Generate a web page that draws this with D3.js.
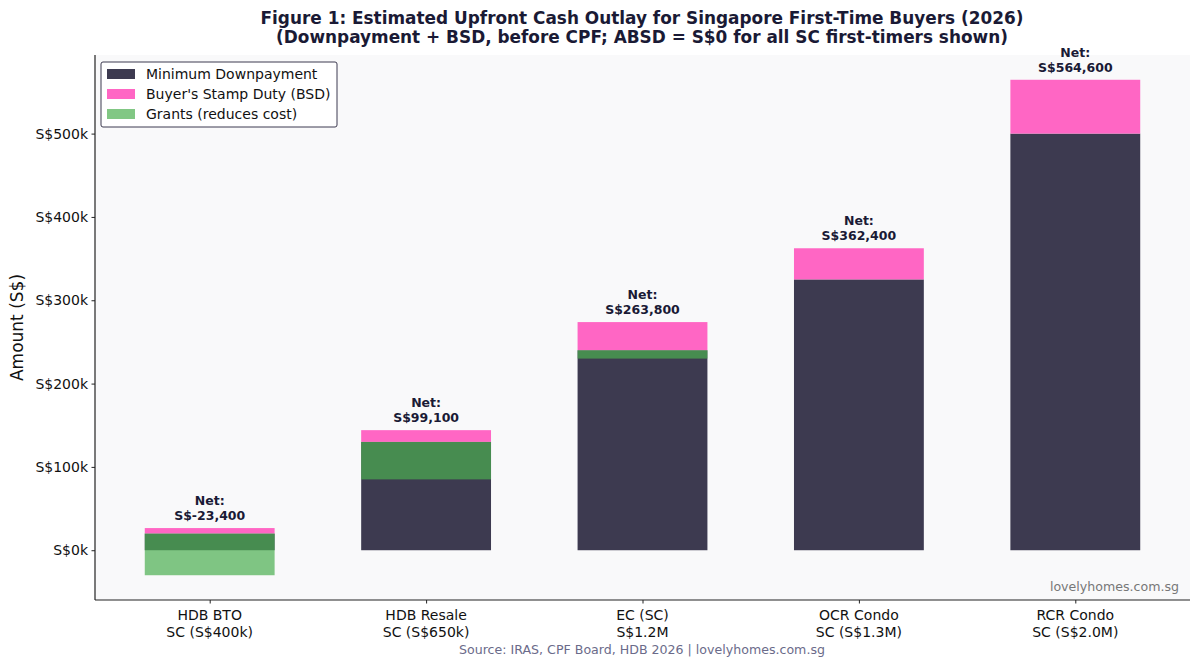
<!DOCTYPE html>
<html><head><meta charset="utf-8">
<script src="https://cdn.jsdelivr.net/npm/d3@7"></script>
<style>body{margin:0;background:#fff;} svg{display:block;font-family:"DejaVu Sans",sans-serif;}</style>
</head><body>
<svg id="chart" width="1200" height="667"></svg>
<script>
const categories = ["HDB BTO\nSC (S$400k)", "HDB Resale\nSC (S$650k)", "EC (SC)\nS$1.2M", "OCR Condo\nSC (S$1.3M)", "RCR Condo\nSC (S$2.0M)"];
const downpayment = [20000, 130000, 240000, 325000, 500000];
const bsd = [6600, 14100, 33800, 37400, 64600];
const grants = [50000, 45000, 10000, 0, 0];
const yTicks = [0, 100000, 200000, 300000, 400000, 500000];
const seriesNames = ["Minimum Downpayment", "Buyer's Stamp Duty (BSD)", "Grants (reduces cost)"];

const C_DP = "#3d3a50", C_BSD = "#ff66c4", C_GR = "#4caf50", INK = "#1a1a35";
const svg = d3.select("#chart");
const m = {left: 95, right: 1190, top: 55, bottom: 600};

const idx = d3.range(categories.length);
const x = d3.scaleLinear().domain([-0.53, categories.length - 1 + 0.53]).range([m.left, m.right]);
const barW = x(0.6) - x(0);
const tops = idx.map(i => downpayment[i] + bsd[i]);
const mins = idx.map(i => Math.min(0, downpayment[i] - grants[i]));
const ymin = d3.min(mins), ymax = d3.max(tops);
const pad = (ymax - ymin) * 0.05;
const y = d3.scaleLinear().domain([ymin - pad, ymax + pad]).range([m.bottom, m.top]);

// plot background
svg.append("rect").attr("x", m.left).attr("y", m.top).attr("width", m.right - m.left).attr("height", m.bottom - m.top).attr("fill", "#f9f9fa");

const g = svg.append("g");
g.selectAll("rect.dp").data(idx).join("rect")
  .attr("x", i => x(i) - barW / 2).attr("width", barW)
  .attr("y", i => y(downpayment[i])).attr("height", i => y(0) - y(downpayment[i]))
  .attr("fill", C_DP);
g.selectAll("rect.bsd").data(idx).join("rect")
  .attr("x", i => x(i) - barW / 2).attr("width", barW)
  .attr("y", i => y(downpayment[i] + bsd[i])).attr("height", i => y(downpayment[i]) - y(downpayment[i] + bsd[i]))
  .attr("fill", C_BSD);
g.selectAll("rect.gr").data(idx.filter(i => grants[i] > 0)).join("rect")
  .attr("x", i => x(i) - barW / 2).attr("width", barW)
  .attr("y", i => y(downpayment[i])).attr("height", i => y(downpayment[i] - grants[i]) - y(downpayment[i]))
  .attr("fill", C_GR).attr("fill-opacity", 0.7);

// net labels
idx.forEach(i => {
  const net = downpayment[i] + bsd[i] - grants[i];
  const ty = y(tops[i]);
  const s = net < 0 ? "S$-" + d3.format(",")(-net) : "S$" + d3.format(",")(net);
  const t = svg.append("text").attr("x", x(i)).attr("text-anchor", "middle")
    .attr("font-size", 12.5).attr("font-weight", "bold").attr("fill", INK);
  t.append("tspan").attr("x", x(i)).attr("y", ty - 23).text("Net:");
  t.append("tspan").attr("x", x(i)).attr("y", ty - 8).text(s);
});

// axes
const yAxis = d3.axisLeft(y).tickValues(yTicks).tickSize(3.5).tickPadding(3.5)
  .tickFormat(d => "S$" + d3.format("d")(d / 1000) + "k");
const ya = svg.append("g").attr("transform", `translate(${m.left},0)`).call(yAxis);
ya.select(".domain").attr("d", `M0,${m.top}V${m.bottom}`).attr("stroke", "#222").attr("stroke-width", 1.2);
ya.selectAll(".tick line").attr("stroke", "#222");
ya.selectAll(".tick text").attr("font-size", 14).attr("fill", "#111").attr("font-family", "DejaVu Sans");

const xAxis = d3.axisBottom(x).tickValues(idx).tickSize(3.5).tickPadding(3.5).tickFormat("");
const xa = svg.append("g").attr("transform", `translate(0,${m.bottom})`).call(xAxis);
xa.select(".domain").attr("d", `M${m.left},0H${m.right}`).attr("stroke", "#222").attr("stroke-width", 1.2);
xa.selectAll(".tick line").attr("stroke", "#222");
idx.forEach(i => {
  const lines = categories[i].split("\n");
  const t = svg.append("text").attr("text-anchor", "middle").attr("font-size", 14).attr("fill", "#111");
  lines.forEach((l, k) => t.append("tspan").attr("x", x(i)).attr("y", m.bottom + 20 + k * 16.5).text(l));
});

// y label
svg.append("text").attr("transform", `translate(23,${(m.top + m.bottom) / 2}) rotate(-90)`)
  .attr("text-anchor", "middle").attr("font-size", 17).attr("fill", "#111").text("Amount (S$)");

// title
const title = svg.append("text").attr("text-anchor", "middle").attr("font-size", 16.9).attr("font-weight", "bold").attr("fill", INK);
title.append("tspan").attr("x", 642).attr("y", 24).text("Figure 1: Estimated Upfront Cash Outlay for Singapore First-Time Buyers (2026)");
title.append("tspan").attr("x", 642).attr("y", 43).text("(Downpayment + BSD, before CPF; ABSD = S$0 for all SC first-timers shown)");

// watermark & source
svg.append("text").attr("x", m.right - 11).attr("y", m.bottom - 9).attr("text-anchor", "end")
  .attr("font-size", 12.6).attr("fill", "#777").text("lovelyhomes.com.sg");
svg.append("text").attr("x", 642).attr("y", 654).attr("text-anchor", "middle")
  .attr("font-size", 12.6).attr("fill", "#6b6b8a").text("Source: IRAS, CPF Board, HDB 2026 | lovelyhomes.com.sg");

// legend
const lg = svg.append("g").attr("transform", "translate(101,62)");
lg.append("rect").attr("width", 236).attr("height", 65).attr("rx", 2).attr("fill", "#fff").attr("fill-opacity", 0.9)
  .attr("stroke", "#3d3a50").attr("stroke-width", 1);
const swCol = [C_DP, C_BSD, C_GR], swOp = [1, 1, 0.7];
seriesNames.forEach((n, k) => {
  lg.append("rect").attr("x", 6).attr("y", 7 + k * 20).attr("width", 28).attr("height", 10)
    .attr("fill", swCol[k]).attr("fill-opacity", swOp[k]);
  lg.append("text").attr("x", 45).attr("y", 17 + k * 20).attr("font-size", 14).attr("fill", "#111").text(n);
});
</script>
</body></html>
